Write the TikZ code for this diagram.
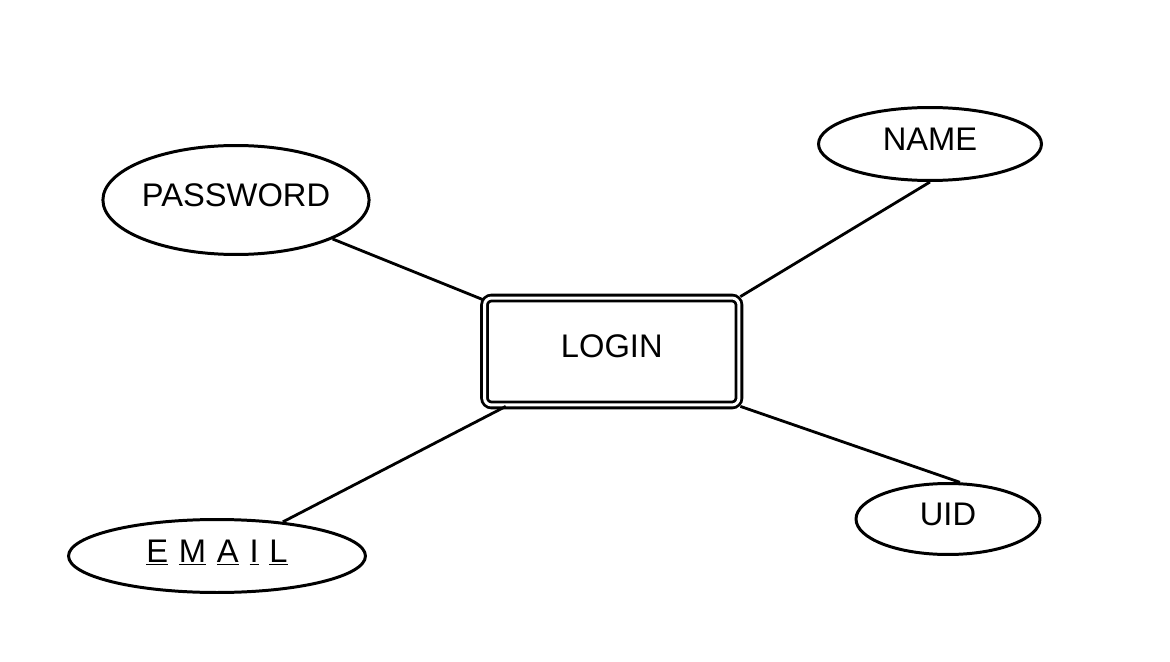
\documentclass[tikz,border=0pt]{standalone}
\usepackage{fontspec}
\setmainfont{Liberation Sans}
\usetikzlibrary{shapes.geometric}

\begin{document}
\begin{tikzpicture}[x=0.02cm,y=-0.02cm,
  attr/.style={ellipse,draw,line width=1.7pt,inner sep=0pt,text depth=0.2cm,
    font=\fontsize{18.6pt}{22pt}\selectfont},
  entity/.style={draw,rounded corners=0.14cm,line width=1.6pt,double,double distance=1.7pt,
    inner sep=0pt,minimum width=5.09cm,minimum height=2.14cm,text depth=0.2cm,
    font=\fontsize{18.6pt}{22pt}\selectfont},
  link/.style={line width=1.6pt}]
  \useasboundingbox (0,0) rectangle (1170,662);

  \node[entity] (login) at (611.75,351.5) {LOGIN};

  \node[attr,minimum width=5.18cm,minimum height=2.18cm] (password) at (236,200) {PASSWORD};
  \node[attr,minimum width=4.46cm,minimum height=1.46cm] (name) at (930,144) {NAME};
  \node[attr,minimum width=3.68cm,minimum height=1.42cm] (uid) at (948,519) {UID};
  \node[attr,minimum width=5.94cm,minimum height=1.46cm] (email) at (217,556)
    {\underline{E}\hspace{0.33em}\underline{M}\hspace{0.33em}\underline{A}%
     \hspace{0.33em}\underline{I}\hspace{0.33em}\underline{L}};

  \draw[link] (password) -- (login);
  \draw[link] (email) -- (login);
  \draw[link] (name.south) -- (login.north east);
  \draw[link] (uid.72) -- (login.south east);
\end{tikzpicture}
\end{document}
